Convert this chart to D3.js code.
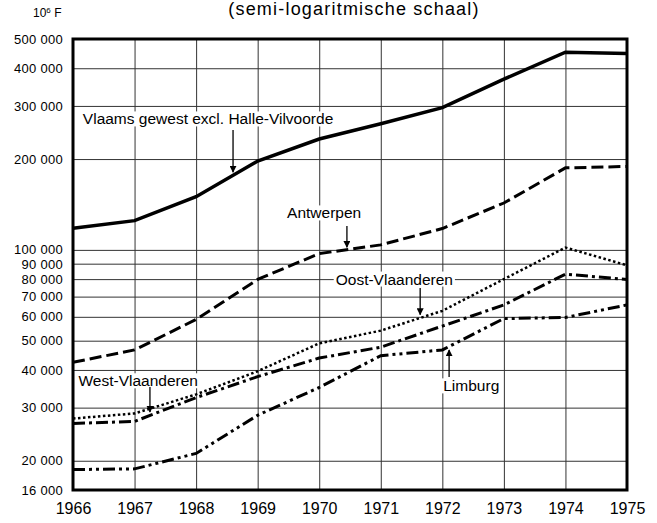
<!DOCTYPE html>
<html>
<head>
<meta charset="utf-8">
<script src="https://cdn.jsdelivr.net/npm/d3@7"></script>
<style>
  body { margin: 0; background: #fff; }
  svg { font-family: "Liberation Sans", Arial, Helvetica, sans-serif; }
</style>
</head>
<body>
<script>
// jaren en waarden (10^6 F)
var years = [1966, 1967, 1968, 1969, 1970, 1971, 1972, 1973, 1974, 1975];

var vlaams     = [118000, 125000, 150000, 197000, 233000, 262000, 296000, 368000, 452000, 448000];
var antwerpen  = [42400, 46600, 58800, 79800, 97200, 103900, 117700, 143000, 187000, 189000];
var oostVl     = [27600, 28700, 33200, 39600, 49000, 54000, 62800, 80000, 101800, 88900];
var westVl     = [26600, 27000, 32400, 38000, 43800, 47600, 55900, 65700, 83100, 79800];
var limburg    = [18700, 18800, 21150, 28300, 35000, 44600, 46600, 59200, 59700, 65700];

var yTicks = [500000, 400000, 300000, 200000, 100000, 90000, 80000, 70000, 60000, 50000, 40000, 30000, 20000, 16000];

// let op: 'top' is een gereserveerde globale naam in de browser
var width = 657,
    height = 523,
    pLeft = 73, pRight = 627, pTop = 39, pBottom = 490;

var svg = d3.select('body').append('svg')
  .attr('width', width)
  .attr('height', height);

var x = d3.scaleLinear().domain([1966, 1975]).range([pLeft, pRight]);
var y = d3.scaleLog().domain([16000, 500000]).range([pBottom, pTop]);

var fmt = d3.formatLocale({ decimal: ',', thousands: ' ', grouping: [3], currency: ['', ' F'] }).format(',d');

// titel (bovenkant afgesneden)
svg.append('text')
  .attr('x', 354).attr('y', 14.5)
  .attr('text-anchor', 'middle')
  .attr('font-size', '18px')
  .attr('letter-spacing', '1.2px')
  .text('(semi-logaritmische schaal)');

var unit = svg.append('text').attr('x', 33).attr('y', 17).attr('font-size', '12px');
unit.append('tspan').text('10');
unit.append('tspan').attr('font-size', '8px').attr('dy', -4).text('6');
unit.append('tspan').attr('dy', 4).text(' F');

// rasterlijnen + labels
var yAxis = svg.append('g')
  .attr('transform', 'translate(' + pLeft + ',0)')
  .call(d3.axisLeft(y).tickValues(yTicks).tickFormat(fmt).tickSizeInner(-(pRight - pLeft)).tickSizeOuter(0).tickPadding(10));
yAxis.select('.domain').remove();
yAxis.selectAll('line').attr('stroke', '#333').attr('stroke-width', 1);
yAxis.selectAll('text')
  .attr('font-size', '13px')
  .attr('letter-spacing', '0.3px')
  .attr('fill', '#000')
  .attr('y', function(d) { return d === 100000 ? -1 : (d === 90000 ? 0.5 : 0); });
yAxis.attr('font-family', null);

var xAxis = svg.append('g')
  .attr('transform', 'translate(0,' + pBottom + ')')
  .call(d3.axisBottom(x).tickValues(years).tickFormat(d3.format('d')).tickSizeInner(-(pBottom - pTop)).tickSizeOuter(0).tickPadding(13));
xAxis.select('.domain').remove();
xAxis.selectAll('line').attr('stroke', '#333').attr('stroke-width', 1);
xAxis.selectAll('text').attr('font-size', '16px').attr('fill', '#000');
xAxis.attr('font-family', null);

// reeksen
var series = [
  { name: 'vlaams', values: vlaams, width: 3.5, dash: null },
  { name: 'antwerpen', values: antwerpen, width: 3, dash: '12,5' },
  { name: 'oost', values: oostVl, width: 2.5, dash: '2.5,2.5' },
  { name: 'west', values: westVl, width: 3, dash: '12,4,3,4' },
  { name: 'limburg', values: limburg, width: 3, dash: '12,4,3,4,3,4' }
];

var line = d3.line()
  .x(function(d, i) { return x(years[i]); })
  .y(function(d) { return y(d); });

svg.selectAll('path.serie')
  .data(series)
  .enter()
  .append('path')
  .attr('class', 'serie')
  .attr('d', function(d) { return line(d.values); })
  .attr('fill', 'none')
  .attr('stroke', '#000')
  .attr('stroke-width', function(d) { return d.width; })
  .attr('stroke-dasharray', function(d) { return d.dash; });

// kader
svg.append('rect')
  .attr('x', pLeft).attr('y', pTop)
  .attr('width', pRight - pLeft).attr('height', pBottom - pTop)
  .attr('fill', 'none').attr('stroke', '#000').attr('stroke-width', 3);

// benamingen met pijlen (posities in jaar / waarde)
var labels = [
  { text: 'Vlaams gewest excl. Halle-Vilvoorde', year: 1966.16, value: 271500, anchor: 'start', a: [1968.6, 249600, 1968.6, 181000] },
  { text: 'Antwerpen', year: 1970.08, value: 132500, anchor: 'middle', a: [1970.45, 120000, 1970.45, 102000] },
  { text: 'Oost-Vlaanderen', year: 1971.22, value: 80000, anchor: 'middle', a: [1971.64, 74800, 1971.64, 61000] },
  { text: 'West-Vlaanderen', year: 1967.06, value: 36800, anchor: 'middle', a: [1967.25, 35100, 1967.25, 29000] },
  { text: 'Limburg', year: 1972.47, value: 35400, anchor: 'middle', a: [1972.11, 37900, 1972.11, 46600] }
];

svg.append('defs').append('marker')
  .attr('id', 'pijl')
  .attr('viewBox', '0 0 10 10')
  .attr('refX', 9).attr('refY', 5)
  .attr('markerWidth', 7).attr('markerHeight', 7)
  .attr('markerUnits', 'userSpaceOnUse')
  .attr('orient', 'auto')
  .append('path').attr('d', 'M0,0 L10,5 L0,10 z').attr('fill', '#000');

var lab = svg.selectAll('g.label')
  .data(labels)
  .enter()
  .append('g')
  .attr('class', 'label');

lab.append('text')
  .attr('x', function(d) { return x(d.year); })
  .attr('y', function(d) { return y(d.value); })
  .attr('dy', '0.35em')
  .attr('text-anchor', function(d) { return d.anchor; })
  .attr('font-size', '15.5px')
  .text(function(d) { return d.text; });

lab.each(function(d) {
  var bb = d3.select(this).select('text').node().getBBox();
  d3.select(this).insert('rect', 'text')
    .attr('x', bb.x - 2).attr('y', bb.y + 1)
    .attr('width', bb.width + 4).attr('height', bb.height - 2)
    .attr('fill', '#fff');
});

lab.append('line')
  .attr('x1', function(d) { return x(d.a[0]); })
  .attr('y1', function(d) { return y(d.a[1]); })
  .attr('x2', function(d) { return x(d.a[2]); })
  .attr('y2', function(d) { return y(d.a[3]); })
  .attr('stroke', '#000').attr('stroke-width', 1.3)
  .attr('marker-end', 'url(#pijl)');
</script>
</body>
</html>
